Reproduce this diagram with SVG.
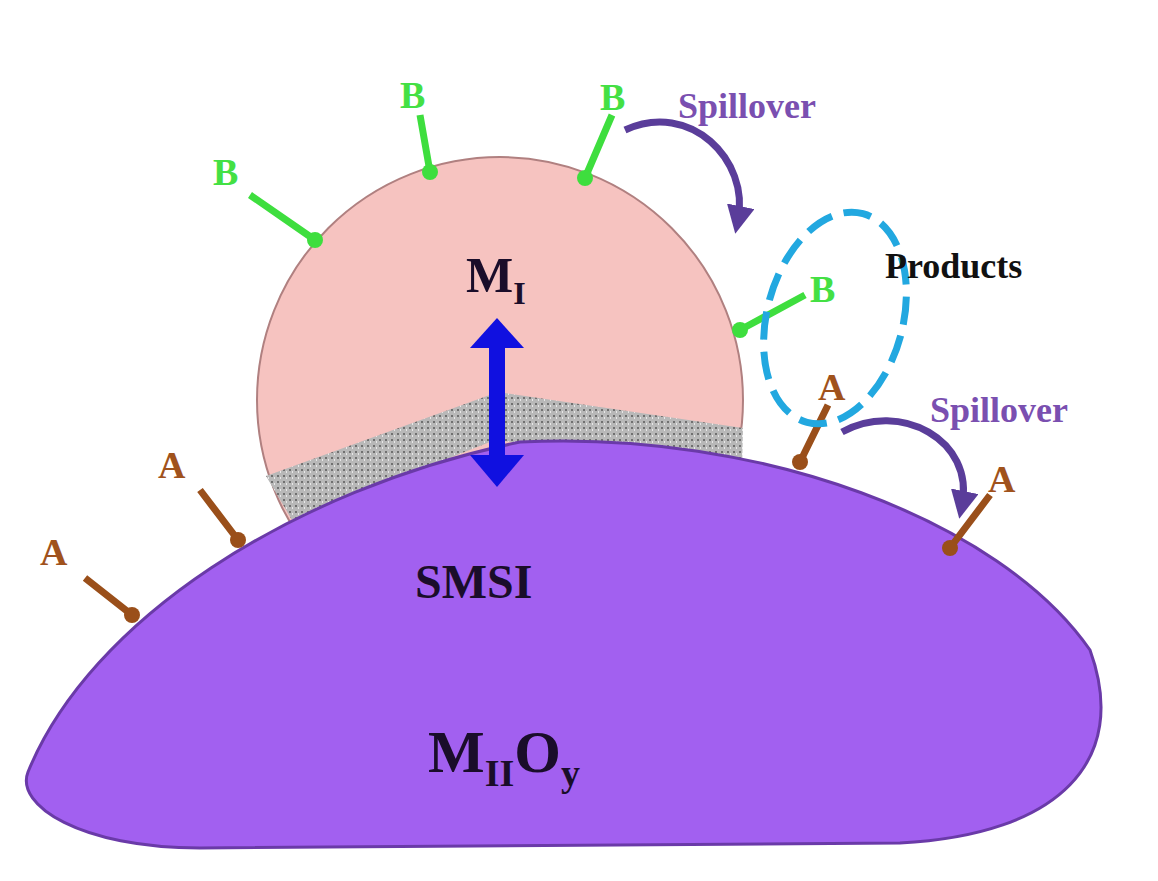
<svg xmlns="http://www.w3.org/2000/svg" width="1158" height="881" viewBox="0 0 1158 881">
<defs>
<style>
.b{fill:#44e044;font:bold 38px "Liberation Serif",serif}
.a{fill:#a0521c;font:bold 38px "Liberation Serif",serif}
.gl{stroke:#3ede3e;stroke-width:7;fill:none}
.al{stroke:#9a4f1a;stroke-width:7;fill:none}
.sp{fill:#7a4fb0;font:bold 36px "Liberation Serif",serif}
.big{fill:#1a0d2a;font-family:"Liberation Serif",serif;font-weight:bold}
</style>
<marker id="pa" markerWidth="4" markerHeight="4" refX="2" refY="2" orient="auto"><path d="M0,0L4,2L0,4Z" fill="#5a3d9a"/></marker>
<pattern id="gr" width="6" height="6" patternUnits="userSpaceOnUse"><rect width="6" height="6" fill="#b8b8b8"/><rect x="1" y="1" width="2" height="2" fill="#707070"/><rect x="4" y="3" width="1" height="2" fill="#e8e8e8"/></pattern>
</defs>
<circle cx="500" cy="400" r="243" fill="#f6c3c0" stroke="#b08080" stroke-width="2"/>
<polygon points="266,476 498,392 743,428 742,470 495,440 292,520" fill="url(#gr)"/>
<path d="M28,772 C90,620 290,490 520,442 C760,430 1000,520 1090,650 C1130,760 1060,835 900,843 L200,848 C80,848 15,805 28,772 Z" fill="#a260f0" stroke="#6a3aa8" stroke-width="3"/>
<g id="ligB">
<path class="gl" d="M250,195 L315,240 M420,115 L430,172 M612,115 L585,178 M805,295 L740,330"/>
<g fill="#3ede3e"><circle cx="315" cy="240" r="8"/><circle cx="430" cy="172" r="8"/><circle cx="585" cy="178" r="8"/><circle cx="740" cy="330" r="8"/></g>
<text class="b" x="213" y="185">B</text><text class="b" x="400" y="108">B</text><text class="b" x="600" y="110">B</text><text class="b" x="810" y="302">B</text>
</g>
<g id="ligA">
<path class="al" d="M85,578 L132,615 M200,490 L238,540 M828,405 L800,462 M990,495 L950,548"/>
<g fill="#9a4f1a"><circle cx="132" cy="615" r="8"/><circle cx="238" cy="540" r="8"/><circle cx="800" cy="462" r="8"/><circle cx="950" cy="548" r="8"/></g>
<text class="a" x="40" y="565">A</text><text class="a" x="158" y="478">A</text><text class="a" x="818" y="400">A</text><text class="a" x="988" y="492">A</text>
</g>
<g id="connectors">
<path d="M497,340 L497,460" stroke="#1010e0" stroke-width="16"/>
<polygon points="470,348 497,318 524,348" fill="#1010e0"/>
<polygon points="470,455 497,487 524,455" fill="#1010e0"/>
<path d="M625,130 C690,100 750,160 738,220" stroke="#5a3d9a" stroke-width="7" fill="none" marker-end="url(#pa)"/>
<path d="M842,432 C900,400 975,440 962,505" stroke="#5a3d9a" stroke-width="7" fill="none" marker-end="url(#pa)"/>
<ellipse cx="835" cy="318" rx="68" ry="108" transform="rotate(15 835 318)" fill="none" stroke="#22a8e0" stroke-width="7" stroke-dasharray="28,12"/>
</g>
<text class="sp" x="678" y="118">Spillover</text>
<text class="sp" x="930" y="422">Spillover</text>
<text x="885" y="278" style="fill:#111;font:bold 36px 'Liberation Serif',serif">Products</text>
<text class="big" x="466" y="292" font-size="50">M<tspan font-size="32" dy="12">I</tspan></text>
<text class="big" x="415" y="598" font-size="48">SMSI</text>
<text class="big" x="428" y="772" font-size="60">M<tspan font-size="38" dy="14">II</tspan><tspan dy="-14">O</tspan><tspan font-size="38" dy="14">y</tspan></text>
</svg>
